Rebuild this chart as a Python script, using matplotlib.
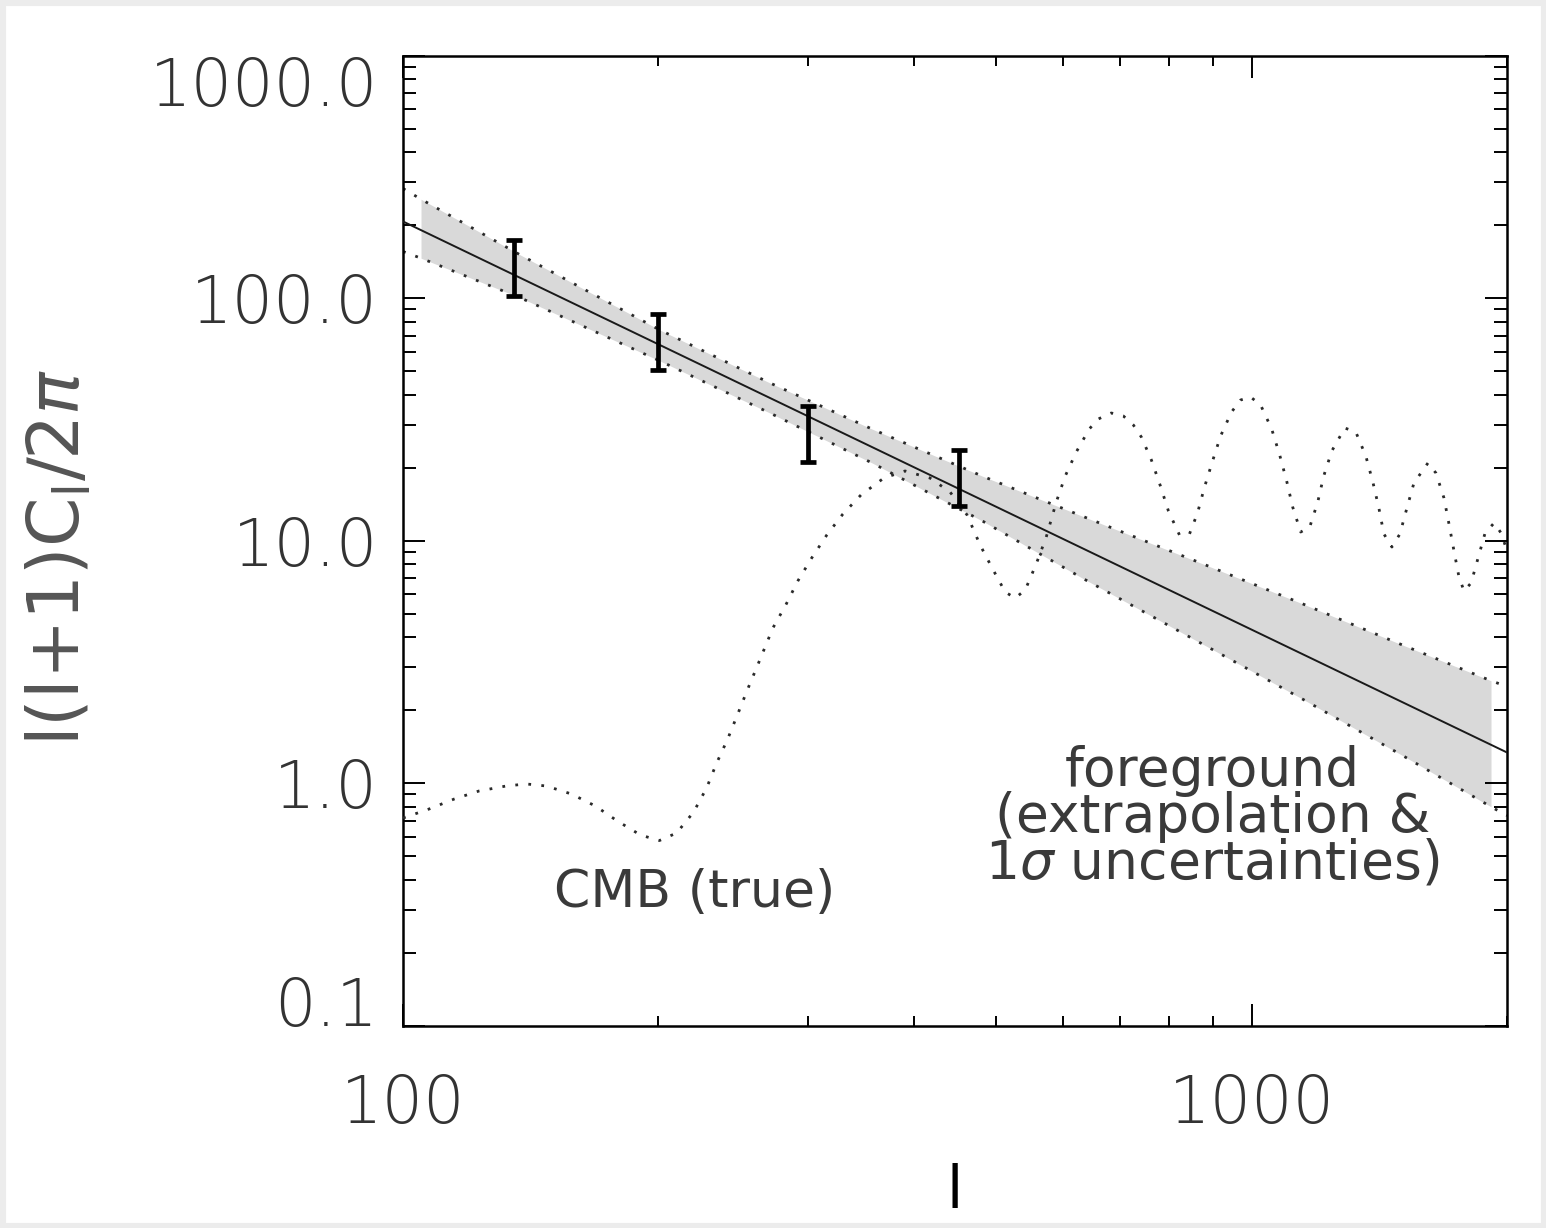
import numpy as np
import matplotlib
matplotlib.use('Agg')
import matplotlib.pyplot as plt
from matplotlib.patches import Rectangle
from matplotlib.ticker import NullFormatter

# multipole l and CMB spectrum l(l+1)C_l/2pi
cmb_l = [100, 107.3, 114.9, 122.9, 132.3, 139.7, 147.5, 157.9, 168.5, 178.9,
         190.5, 200.5, 210.1, 220.0, 227.9, 234.2, 241.3, 248.0, 254.8, 261.8,
         272.8, 282.5, 291.9, 303.1, 315.8, 329.9, 346.4, 368.7, 390.5, 417.8,
         441.2, 462.1, 478.7, 494.6, 512.4, 526.5, 541.0, 557.4, 572.8, 588.6,
         603.1, 621.4, 643.7, 659.7, 683.4, 706.1, 725.5, 741.4, 761.9, 780.8,
         798.0, 822.2, 844.9, 863.5, 880.1, 899.5, 919.3, 947.0, 970.5, 997.3,
         1024.7, 1056.0, 1079.2, 1099.8, 1117.9, 1142.6, 1170.9, 1196.6, 1216.2, 1243.1,
         1287.7, 1326.8, 1363.3, 1389.6, 1412.5, 1431.9, 1463.3, 1495.4, 1524.1, 1553.5,
         1613.6, 1649.0, 1685.4, 1708.5, 1731.9, 1755.5, 1779.7, 1814.0, 1848.9, 1884.4,
         1931.0, 1967.9, 1995.0]
cmb_val = [0.717, 0.781, 0.859, 0.927, 0.972, 0.991, 0.972, 0.901, 0.804, 0.697,
           0.610, 0.579, 0.622, 0.759, 0.954, 1.209, 1.518, 1.925, 2.441, 3.066,
           4.357, 5.420, 6.808, 8.47, 10.54, 12.86, 15.40, 18.10, 19.35, 18.10,
           15.85, 12.74, 9.58, 7.70, 6.13, 5.79, 6.25, 8.00, 10.34, 14.41,
           18.45, 23.17, 28.83, 31.70, 33.56, 32.62, 29.95, 26.72, 21.48, 16.78,
           13.23, 10.54, 10.64, 12.98, 16.62, 21.27, 26.97, 33.88, 37.96, 39.06,
           36.22, 28.83, 22.52, 17.60, 13.75, 10.84, 11.37, 14.41, 18.45, 23.39,
           29.10, 28.02, 22.31, 17.43, 13.61, 10.64, 9.40, 10.64, 13.61, 17.27,
           20.87, 18.98, 14.97, 11.70, 9.05, 7.07, 6.19, 6.68, 8.47, 10.74,
           11.81, 10.74, 9.31]

# foreground power-law extrapolation (end points)
fg_l = [100, 2000]
fg_val = [206.8, 1.336]

# 1 sigma band edges
band_l = [100, 105.0, 137.1, 200.6, 270.4, 357.9, 482.8, 633.4, 870.6, 1142.6,
          1499.5, 1914.9, 2000]
band_hi = [282.8, 255.5, 151.3, 73.9, 44.7, 28.7, 18.36, 12.55, 8.08, 5.52,
           3.73, 2.64, 2.50]
band_lo = [155.5, 145.9, 100.6, 55.1, 33.6, 20.8, 11.98, 6.96, 3.78, 2.24,
           1.31, 0.798, 0.734]
fill_from, fill_to = 105.0, 1914.9

# measured points (error bar ends)
pt_l = [135, 200, 300, 452]
pt_lo = [101.9, 50.5, 21.1, 13.9]
pt_hi = [173.5, 85.9, 35.9, 23.6]

ytick_vals = [0.1, 1.0, 10.0, 100.0, 1000.0]
ytick_labels = ['0.1', '1.0', '10.0', '100.0', '1000.0']
xtick_vals = [100, 1000]
xtick_labels = ['100', '1000']

plt.rcParams['font.family'] = ['DejaVu Sans']
plt.rcParams['mathtext.fontset'] = 'custom'
plt.rcParams['mathtext.rm'] = 'DejaVu Sans'
plt.rcParams['mathtext.it'] = 'DejaVu Sans:italic'
plt.rcParams['mathtext.bf'] = 'DejaVu Sans:bold'

fig = plt.figure(figsize=(15.46, 12.28), dpi=100)
fig.patch.set_facecolor('white')
fig.patches.append(Rectangle((0, 0), 1, 1, transform=fig.transFigure, fill=False,
                             edgecolor='#ececec', linewidth=8))
ax = fig.add_axes([0.2607, 0.1649, 0.7141, 0.7899])

bl = np.array(band_l)
bh = np.array(band_hi)
blo = np.array(band_lo)
m = (bl >= fill_from) & (bl <= fill_to)
ax.fill_between(bl[m], blo[m], bh[m], color='#d9d9d9', linewidth=0, zorder=1)

dot = (0, (1, 3.7))
ax.plot(band_l, band_hi, color='#2a2a2a', lw=2.0, ls=dot, zorder=2)
ax.plot(band_l, band_lo, color='#2a2a2a', lw=2.0, ls=dot, zorder=2)
ax.plot(fg_l, fg_val, color='#1a1a1a', lw=1.4, zorder=3)
ax.plot(cmb_l, cmb_val, color='#2a2a2a', lw=2.0, ls=dot, zorder=3)

lo = np.array(pt_lo)
hi = np.array(pt_hi)
mid = np.sqrt(lo * hi)
ax.errorbar(pt_l, mid, yerr=[mid - lo, hi - mid], fmt='none', ecolor='black',
            elinewidth=3.4, capsize=6, capthick=3.4, zorder=4)

ax.set_xscale('log')
ax.set_yscale('log')
ax.set_xlim(100, 2000)
ax.set_ylim(0.1, 1000)

ax.set_yticks(ytick_vals)
ax.set_yticklabels(ytick_labels)
ax.set_xticks(xtick_vals)
ax.set_xticklabels(xtick_labels)

for s in ax.spines.values():
    s.set_linewidth(1.8)
ax.tick_params(which='both', direction='in', top=True, right=True, width=1.4,
               colors='black', labelcolor='#333333')
ax.tick_params(axis='y', which='major', length=16, pad=18, labelsize=47)
ax.tick_params(axis='y', which='minor', length=9.5)
ax.tick_params(axis='x', which='major', length=16, pad=34, labelsize=47)
ax.tick_params(axis='x', which='minor', length=7.5)
ax.xaxis.set_minor_formatter(NullFormatter())
ax.yaxis.set_minor_formatter(NullFormatter())

ylabs = ax.get_yticklabels()
ylabs[0].set_va('baseline')
ylabs[-1].set_va('top')
for t in ax.get_yticklabels() + ax.get_xticklabels():
    t.set_fontweight('light')

ax.set_xlabel('l', fontsize=42, color='black', va='center')
ax.xaxis.set_label_coords(0.5, -0.1716)
ax.set_ylabel(r'l(l+1)C$_{\mathregular{l}}$/2$\pi$', fontsize=51, color='#555555',
              va='center')
ax.yaxis.set_label_coords(-0.311, 0.483)

ax.text(220.6, 0.352, 'CMB (true)', fontsize=37.5, color='#3a3a3a', ha='center',
        va='center')
ax.text(899.5, 0.724, 'foreground\n(extrapolation &\n1$\\sigma$ uncertainties)',
        fontsize=38.5, color='#3a3a3a', ha='center', va='center',
        linespacing=0.86)

plt.savefig('out.png', dpi=100)
